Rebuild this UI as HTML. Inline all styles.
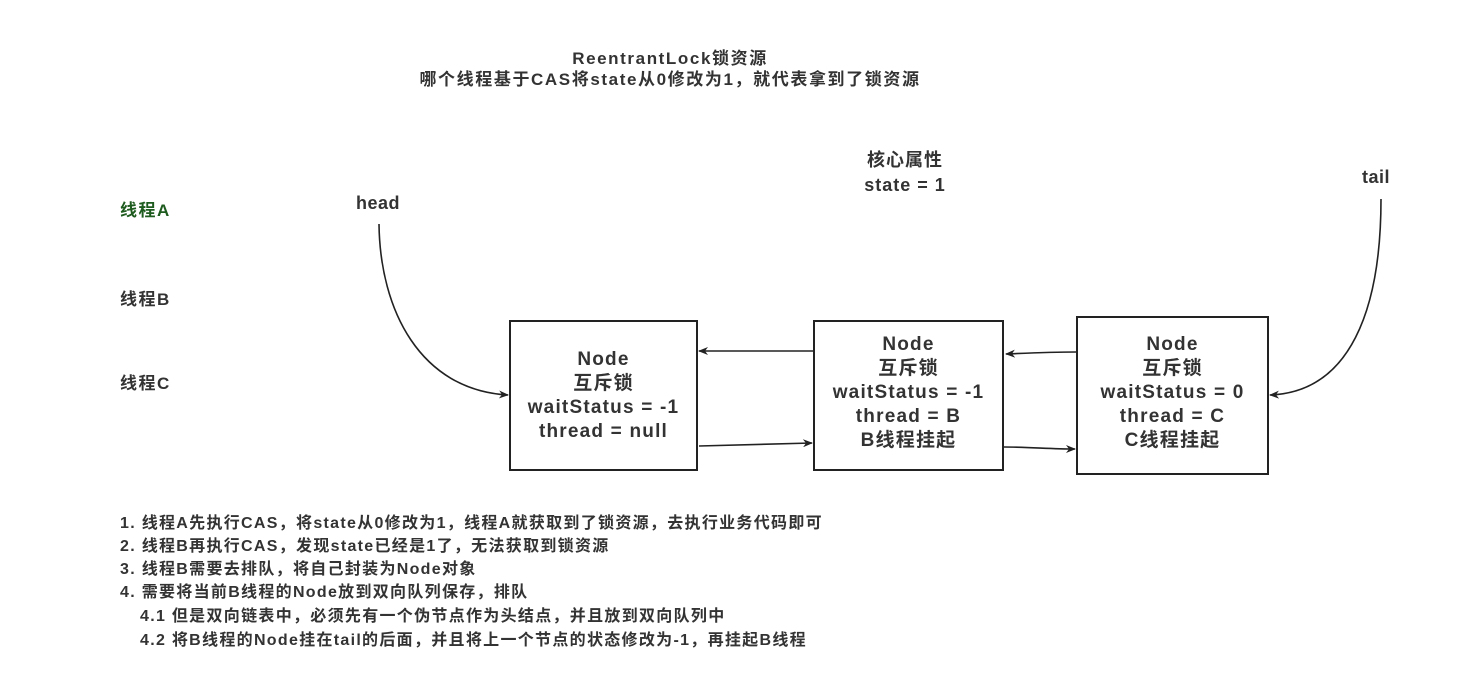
<!DOCTYPE html>
<html><head><meta charset="utf-8"><style>
body{margin:0;width:1470px;height:674px;background:#fff;position:relative;overflow:hidden;font-family:"Liberation Sans","Noto Sans CJK SC",sans-serif;font-weight:bold;color:#333}
.t{position:absolute;white-space:nowrap}
.c{text-align:center}
.box{position:absolute;border:2px solid #222;box-sizing:border-box;display:flex;align-items:center;justify-content:center;text-align:center;font-size:19px;letter-spacing:1.2px;line-height:24px}
.l{position:absolute;left:120px;font-size:16px;letter-spacing:1.3px;white-space:nowrap}
</style></head><body>
<div class="t c" style="left:370px;width:600px;top:48px;font-size:17px;letter-spacing:1.6px;line-height:21px">ReentrantLock锁资源<br>哪个线程基于CAS将state从0修改为1，就代表拿到了锁资源</div>
<div class="t c" style="left:805px;width:200px;top:148px;font-size:18px;letter-spacing:1px;line-height:25px">核心属性<br>state = 1</div>
<div class="t" style="left:1362px;top:167px;font-size:18px;letter-spacing:0.5px">tail</div>
<div class="t" style="left:356px;top:193px;font-size:18px;letter-spacing:0.5px">head</div>
<div class="t" style="left:120px;top:196px;font-size:17px;letter-spacing:1.5px;color:#1e5b1e">线程A</div>
<div class="t" style="left:120px;top:285px;font-size:17px;letter-spacing:1.5px">线程B</div>
<div class="t" style="left:120px;top:369px;font-size:17px;letter-spacing:1.5px">线程C</div>
<div class="box" style="left:509px;top:320px;width:189px;height:151px">Node<br>互斥锁<br>waitStatus = -1<br>thread = null</div>
<div class="box" style="left:813px;top:320px;width:191px;height:151px;padding-bottom:6px">Node<br>互斥锁<br>waitStatus = -1<br>thread = B<br>B线程挂起</div>
<div class="box" style="left:1076px;top:316px;width:193px;height:159px;padding-bottom:6px">Node<br>互斥锁<br>waitStatus = 0<br>thread = C<br>C线程挂起</div>
<svg width="1470" height="674" style="position:absolute;left:0;top:0">
<defs><marker id="a" markerWidth="10" markerHeight="8" refX="9" refY="4" orient="auto" markerUnits="userSpaceOnUse"><path d="M0,0 L10,4 L0,8 L3,4z" fill="#222"/></marker></defs>
<g stroke="#222" stroke-width="1.6" fill="none" marker-end="url(#a)">
<path d="M379,224 C380,310 420,390 508,395"/>
<path d="M1381,199 C1381,310 1350,392 1270,395"/>
<line x1="813" y1="351" x2="699" y2="351"/>
<line x1="699" y1="446" x2="812" y2="443"/>
<path d="M1076,352 C1050,352 1030,353 1006,354"/>
<path d="M1004,447 C1030,447 1050,449 1075,449"/>
</g></svg>
<div class="l" style="top:509px">1. 线程A先执行CAS，将state从0修改为1，线程A就获取到了锁资源，去执行业务代码即可</div>
<div class="l" style="top:532px">2. 线程B再执行CAS，发现state已经是1了，无法获取到锁资源</div>
<div class="l" style="top:555px">3. 线程B需要去排队，将自己封装为Node对象</div>
<div class="l" style="top:578px">4. 需要将当前B线程的Node放到双向队列保存，排队</div>
<div class="l" style="top:602px;left:140px">4.1 但是双向链表中，必须先有一个伪节点作为头结点，并且放到双向队列中</div>
<div class="l" style="top:626px;left:140px">4.2 将B线程的Node挂在tail的后面，并且将上一个节点的状态修改为-1，再挂起B线程</div>
</body></html>
